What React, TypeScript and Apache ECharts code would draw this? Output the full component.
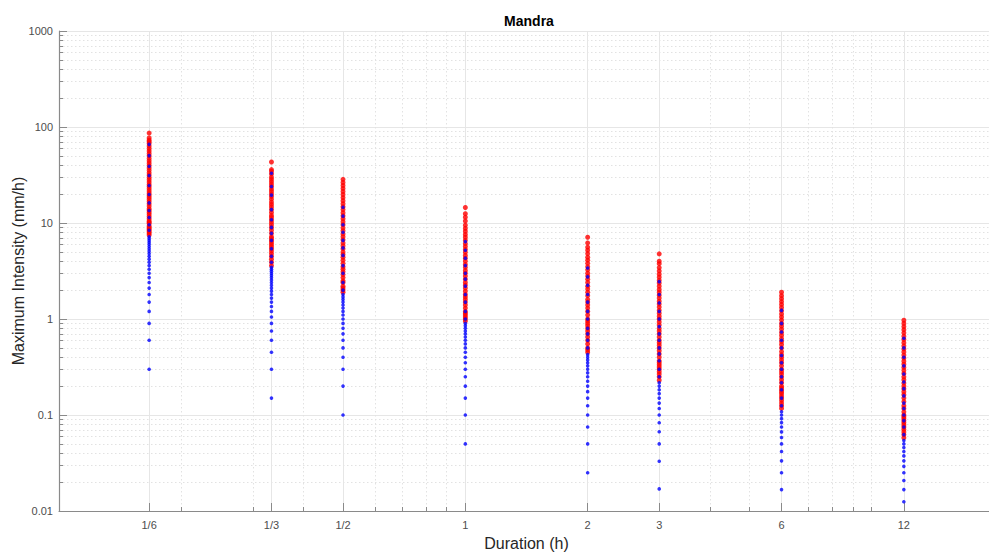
import React, { useEffect, useRef } from "react";
import * as echarts from "echarts";

const title = "Mandra";
const xName = "Duration (h)";
const yName = "Maximum Intensity (mm/h)";

const durations = [1 / 6, 1 / 3, 1 / 2, 1, 2, 3, 6, 12];
const durationLabels = ["1/6", "1/3", "1/2", "1", "2", "3", "6", "12"];
const xMinorTicks = [0.2, 0.3, 0.4, 0.6, 0.7, 0.8, 0.9, 4, 5, 7, 8, 9, 10];
const yMajorTicks = [0.01, 0.1, 1, 10, 100, 1000];
const yMajorLabels = ["0.01", "0.1", "1", "10", "100", "1000"];
const yMinorTicks = [
  0.02, 0.03, 0.04, 0.05, 0.06, 0.07, 0.08, 0.09,
  0.2, 0.3, 0.4, 0.5, 0.6, 0.7, 0.8, 0.9,
  2, 3, 4, 5, 6, 7, 8, 9,
  20, 30, 40, 50, 60, 70, 80, 90,
  200, 300, 400, 500, 600, 700, 800, 900,
];

// Blue points per duration (mm/h)
const blue_10min = [0.3, 0.6, 0.9, 1.2, 1.5, 1.8, 2.1, 2.4, 2.7, 3.0, 3.3, 3.6, 3.9, 4.2, 4.5, 4.8, 5.1, 5.4, 5.7, 6.0, 6.3, 6.6, 6.9, 7.2, 8.4, 9.6, 11.4, 13.5, 16.2, 19.8, 24.6, 31.2, 39.0, 50.4, 66.0];
const blue_20min = [0.15, 0.3, 0.45, 0.6, 0.75, 0.9, 1.05, 1.2, 1.35, 1.5, 1.65, 1.8, 1.95, 2.1, 2.25, 2.4, 2.55, 2.7, 2.85, 3.0, 3.15, 3.3, 3.45, 3.9, 4.5, 5.4, 6.6, 7.8, 9.0, 10.8, 13.8, 19.5, 24.0, 33.0];
const blue_30min = [0.1, 0.2, 0.3, 0.4, 0.5, 0.6, 0.7, 0.8, 0.9, 1.0, 1.1, 1.2, 1.3, 1.4, 1.5, 1.6, 1.7, 1.8, 2.0, 2.4, 3.0, 3.6, 4.6, 5.5, 6.6, 8.0, 9.6, 11.8, 14.6];
const blue_1h = [0.05, 0.1, 0.15, 0.2, 0.25, 0.3, 0.35, 0.4, 0.45, 0.5, 0.55, 0.6, 0.65, 0.7, 0.75, 0.8, 0.85, 0.9, 1.0, 1.2, 1.5, 1.8, 2.2, 2.6, 3.0, 3.6, 4.3, 5.2, 6.4];
const blue_2h = [0.025, 0.05, 0.075, 0.1, 0.125, 0.15, 0.175, 0.2, 0.225, 0.25, 0.275, 0.3, 0.325, 0.35, 0.375, 0.4, 0.425, 0.5, 0.6, 0.7, 0.8, 1.0, 1.2, 1.5, 1.8, 2.25, 2.75, 3.4];
const blue_3h = [0.017, 0.033, 0.05, 0.067, 0.083, 0.1, 0.117, 0.133, 0.15, 0.167, 0.183, 0.2, 0.217, 0.25, 0.3, 0.367, 0.433, 0.5, 0.6, 0.7, 0.833, 1.0, 1.2, 1.47, 1.8, 2.45];
const blue_6h = [0.0167, 0.025, 0.0333, 0.0417, 0.05, 0.0583, 0.0667, 0.075, 0.0833, 0.0917, 0.1, 0.108, 0.125, 0.15, 0.183, 0.217, 0.25, 0.3, 0.35, 0.417, 0.5, 0.6, 0.733, 0.9, 1.23];
const blue_12h = [0.0125, 0.0167, 0.0208, 0.025, 0.0292, 0.0333, 0.0375, 0.0417, 0.0458, 0.05, 0.0542, 0.0625, 0.075, 0.0875, 0.1, 0.117, 0.133, 0.158, 0.188, 0.221, 0.267, 0.325, 0.4, 0.5, 0.63];

// Red points per duration (mm/h)
const red_10min = [7.5, 7.8, 8.1, 8.4, 8.7, 9.0, 9.3, 9.9, 10.2, 10.5, 11.1, 11.7, 12.3, 12.9, 13.5, 14.1, 15.0, 15.9, 16.8, 17.7, 18.6, 19.5, 20.4, 21.6, 22.8, 24.0, 25.2, 26.7, 28.2, 29.7, 31.5, 33.3, 35.4, 37.5, 39.6, 42.0, 44.4, 47.1, 50.1, 53.1, 56.4, 59.7, 63.3, 67.2, 70.2, 72.9, 76.8, 86.4];
const red_20min = [3.6, 3.9, 4.2, 4.5, 4.8, 5.1, 5.4, 5.7, 6.0, 6.3, 6.6, 6.9, 7.2, 7.8, 8.4, 9.0, 9.6, 10.2, 10.8, 11.4, 12.0, 12.9, 13.8, 14.7, 15.6, 16.5, 17.7, 18.9, 20.1, 21.3, 22.5, 24.0, 25.5, 27.0, 28.5, 30.0, 32.4, 34.5, 36.0, 43.2];
const red_30min = [1.9, 2.0, 2.1, 2.2, 2.4, 2.5, 2.7, 2.9, 3.1, 3.3, 3.5, 3.8, 4.1, 4.4, 4.7, 5.0, 5.4, 5.8, 6.2, 6.7, 7.2, 7.7, 8.3, 8.9, 9.6, 10.3, 11.1, 11.9, 12.8, 13.8, 14.8, 15.9, 17.1, 18.4, 19.8, 21.3, 22.9, 24.6, 26.4, 28.5];
const red_1h = [0.95, 1.0, 1.05, 1.1, 1.15, 1.2, 1.3, 1.4, 1.5, 1.6, 1.7, 1.8, 1.95, 2.1, 2.25, 2.4, 2.6, 2.8, 3.0, 3.2, 3.45, 3.7, 4.0, 4.3, 4.6, 4.95, 5.3, 5.7, 6.1, 6.6, 7.1, 7.6, 8.2, 8.8, 9.5, 10.5, 11.5, 12.5, 14.5];
const red_2h = [0.45, 0.475, 0.5, 0.55, 0.6, 0.65, 0.7, 0.75, 0.8, 0.85, 0.9, 0.95, 1.0, 1.1, 1.2, 1.3, 1.4, 1.5, 1.6, 1.75, 1.9, 2.05, 2.2, 2.4, 2.6, 2.8, 3.0, 3.25, 3.5, 3.8, 4.1, 4.4, 4.8, 5.2, 5.6, 6.2, 7.1];
const red_3h = [0.23, 0.25, 0.267, 0.283, 0.3, 0.317, 0.333, 0.35, 0.367, 0.4, 0.433, 0.467, 0.5, 0.533, 0.567, 0.6, 0.65, 0.7, 0.75, 0.8, 0.867, 0.933, 1.0, 1.07, 1.15, 1.23, 1.33, 1.43, 1.53, 1.65, 1.77, 1.9, 2.03, 2.2, 2.37, 2.53, 2.73, 2.93, 3.17, 3.43, 3.77, 4.0, 4.77];
const red_6h = [0.117, 0.125, 0.133, 0.142, 0.15, 0.158, 0.167, 0.175, 0.183, 0.192, 0.2, 0.217, 0.233, 0.25, 0.267, 0.283, 0.3, 0.325, 0.35, 0.375, 0.4, 0.425, 0.458, 0.5, 0.542, 0.583, 0.625, 0.675, 0.725, 0.783, 0.842, 0.9, 0.975, 1.05, 1.13, 1.22, 1.32, 1.42, 1.52, 1.63, 1.75, 1.9];
const red_12h = [0.058, 0.0625, 0.0667, 0.0708, 0.075, 0.0792, 0.0833, 0.0875, 0.0917, 0.0958, 0.1, 0.108, 0.117, 0.125, 0.138, 0.15, 0.163, 0.175, 0.188, 0.2, 0.215, 0.233, 0.25, 0.271, 0.292, 0.313, 0.338, 0.363, 0.392, 0.421, 0.454, 0.488, 0.525, 0.567, 0.613, 0.663, 0.717, 0.775, 0.833, 0.9, 0.97];

const blueByDuration = [blue_10min, blue_20min, blue_30min, blue_1h, blue_2h, blue_3h, blue_6h, blue_12h];
const redByDuration = [red_10min, red_20min, red_30min, red_1h, red_2h, red_3h, red_6h, red_12h];

const FONT = "Liberation Sans, Arial, sans-serif";

function toPairs(groups: number[][]) {
  const out: number[][] = [];
  groups.forEach((vals, i) => vals.forEach((v) => out.push([durations[i], v])));
  return out;
}

function xLabel(v: number) {
  for (let i = 0; i < durations.length; i++) {
    if (Math.abs(v - durations[i]) / durations[i] < 1e-6) return durationLabels[i];
  }
  return "";
}
function yLabel(v: number) {
  for (let i = 0; i < yMajorTicks.length; i++) {
    if (Math.abs(v - yMajorTicks[i]) / yMajorTicks[i] < 1e-6) return yMajorLabels[i];
  }
  return "";
}

export default function App() {
  const ref = useRef<HTMLDivElement>(null);
  useEffect(() => {
    if (!ref.current) return;
    const chart = echarts.init(ref.current, undefined, { renderer: "svg" });
    const axisLineColor = "#8a8a8a";
    const majorGrid = "#e6e6e6";
    const minorGrid = "#e2e2e2";
    chart.setOption({
      animation: false,
      backgroundColor: "#ffffff",
      textStyle: { fontFamily: FONT },
      title: {
        text: title,
        left: 524,
        top: 9,
        textAlign: "center",
        textStyle: { fontFamily: FONT, fontSize: 14, fontWeight: "bold", color: "#000" },
      },
      grid: { left: 59, right: -5, top: 31, bottom: 45, containLabel: false, outerBoundsMode: "none" },
      xAxis: [
        {
          type: "log",
          logBase: 10,
          min: 0.1,
          max: 20,
          position: "bottom",
          name: xName,
          nameLocation: "middle",
          nameGap: 24,
          nameMoveOverlap: false,
          nameTextStyle: { fontFamily: FONT, fontSize: 16, color: "#262626" },
          axisLine: { show: true, lineStyle: { color: axisLineColor, width: 1.2 } },
          axisTick: { show: true, inside: true, length: 8, customValues: durations, lineStyle: { color: axisLineColor, width: 1 } },
          axisLabel: { show: true, customValues: durations, formatter: (v: number) => xLabel(v), color: "#4d4d4d", fontSize: 11, margin: 8, fontFamily: FONT },
          splitLine: { show: true, lineStyle: { color: majorGrid, width: 1, type: "solid" } },
          minorTick: { show: false },
          minorSplitLine: { show: false },
        },
        {
          type: "log",
          logBase: 10,
          min: 0.1,
          max: 20,
          position: "bottom",
          axisLine: { show: false },
          axisTick: { show: true, inside: true, length: 4, customValues: xMinorTicks, lineStyle: { color: axisLineColor, width: 1 } },
          axisLabel: { show: false },
          splitLine: { show: true, lineStyle: { color: minorGrid, width: 1, type: [1.5, 2.5] } },
        },
      ],
      yAxis: [
        {
          type: "log",
          logBase: 10,
          min: 0.01,
          max: 1000,
          position: "left",
          name: yName,
          nameLocation: "middle",
          nameGap: 33,
          nameMoveOverlap: false,
          nameTextStyle: { fontFamily: FONT, fontSize: 16, color: "#262626" },
          axisLine: { show: true, lineStyle: { color: axisLineColor, width: 1.2 } },
          axisTick: { show: true, inside: true, length: 8, customValues: yMajorTicks, lineStyle: { color: axisLineColor, width: 1 } },
          axisLabel: { show: true, customValues: yMajorTicks, formatter: (v: number) => yLabel(v), color: "#4d4d4d", fontSize: 11, margin: 6, fontFamily: FONT },
          splitLine: { show: true, lineStyle: { color: majorGrid, width: 1.2, type: "solid" } },
        },
        {
          type: "log",
          logBase: 10,
          min: 0.01,
          max: 1000,
          position: "left",
          axisLine: { show: false },
          axisTick: { show: true, inside: true, length: 4, customValues: yMinorTicks, lineStyle: { color: axisLineColor, width: 1 } },
          axisLabel: { show: false },
          splitLine: { show: true, lineStyle: { color: minorGrid, width: 1, type: [1.5, 2.5] } },
        },
      ],
      series: [
        {
          type: "scatter",
          name: "red",
          xAxisIndex: 0,
          yAxisIndex: 0,
          symbol: "circle",
          symbolSize: 5,
          itemStyle: { color: "#ff0000" },
          data: toPairs(redByDuration),
          z: 3,
        },
        {
          type: "scatter",
          name: "blue",
          xAxisIndex: 0,
          yAxisIndex: 0,
          symbol: "circle",
          symbolSize: 3.6,
          itemStyle: { color: "#0000ff" },
          data: toPairs(blueByDuration),
          z: 4,
        },
      ],
    });
    return () => chart.dispose();
  }, []);
  return (
    <div
      ref={ref}
      style={{ position: "fixed", left: 0, top: 0, width: 989, height: 556, background: "#fff" }}
    />
  );
}
